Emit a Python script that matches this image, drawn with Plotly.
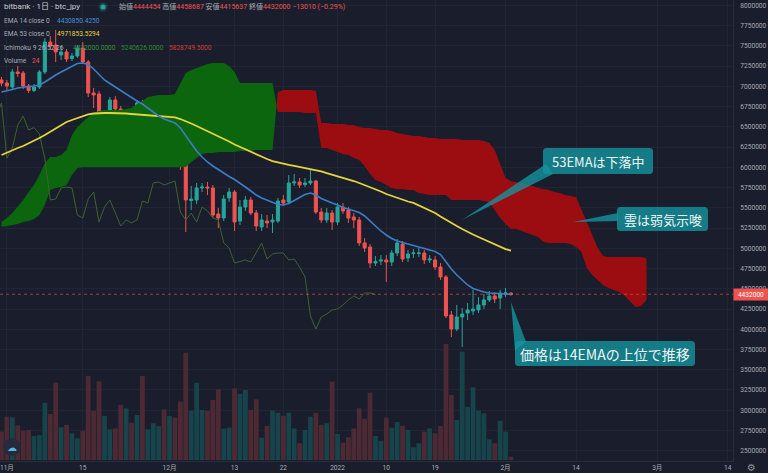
import numpy as np
import pandas as pd
import plotly.graph_objects as go

# ---------------- data (prices in thousand JPY) ----------------
start_date = "2021-10-31"
open_k = [7079, 7042, 6992, 7178, 7165, 7005, 6949, 6992, 7178, 7548,
          7511, 7388, 7425, 7344, 7375, 7474, 7301, 6918, 6906, 6511,
          6647, 6832, 6721, 6486, 6647, 6622, 6795, 6115, 6239, 6523,
          6634, 6474, 6486, 6399, 6091, 5590, 5597, 5745, 5757, 5745,
          5424, 5374, 5621, 5695, 5337, 5510, 5597, 5436, 5263, 5337,
          5325, 5337, 5597, 5572, 5807, 5819, 5788, 5807, 5831, 5448,
          5350, 5436, 5325, 5510, 5473, 5387, 5350, 5066, 5016, 4818,
          4843, 4856, 4831, 4942, 5053, 4880, 4936, 4936, 4942, 4856,
          4856, 4769, 4646, 4176, 4003, 4151, 4201, 4226, 4238, 4300,
          4362, 4411, 4386, 4436, 4444.454]
high_k = [7116, 7079, 7215, 7252, 7190, 7029, 7029, 7202, 7598, 7622,
          7696, 7499, 7462, 7412, 7511, 7548, 7326, 6980, 6943, 6684,
          6869, 6881, 6758, 6684, 6708, 6832, 6832, 6276, 6560, 6684,
          6671, 6560, 6523, 6437, 6115, 5770, 5807, 5807, 5819, 5782,
          5498, 5658, 5745, 5720, 5597, 5646, 5634, 5473, 5424, 5411,
          5424, 5621, 5658, 5905, 5918, 5868, 5868, 5967, 5844, 5498,
          5498, 5473, 5560, 5560, 5510, 5436, 5387, 5127, 5053, 4905,
          4917, 4917, 4979, 5115, 5090, 4979, 4991, 5004, 4979, 4917,
          4905, 4818, 4670, 4226, 4300, 4263, 4324, 4485, 4398, 4436,
          4473, 4460, 4485, 4510, 4458.687]
low_k = [7005, 6955, 6968, 7116, 6968, 6918, 6931, 6968, 7153, 7449,
         7301, 7326, 7301, 7313, 7351, 7276, 6869, 6733, 6486, 6449,
         6609, 6684, 6449, 6461, 6572, 6585, 6078, 6029, 6214, 6486,
         6424, 6412, 6375, 5967, 5201, 5473, 5547, 5695, 5658, 5374,
         5251, 5337, 5572, 5214, 5288, 5461, 5411, 5214, 5214, 5251,
         5189, 5313, 5523, 5547, 5770, 5745, 5757, 5782, 5424, 5313,
         5313, 5226, 5288, 5424, 5313, 5251, 5028, 4954, 4757, 4781,
         4794, 4584, 4781, 4905, 4831, 4831, 4880, 4893, 4806, 4818,
         4732, 4609, 4139, 3904, 3978, 3781, 4114, 4176, 4201, 4250,
         4337, 4324, 4250, 4398, 4415.637]
close_k = [7042, 7005, 7178, 7159, 7005, 6949, 6992, 7178, 7548, 7499,
           7425, 7425, 7338, 7375, 7474, 7301, 6918, 6894, 6511, 6647,
           6832, 6721, 6486, 6647, 6622, 6795, 6115, 6239, 6523, 6634,
           6461, 6492, 6412, 6103, 5597, 5609, 5745, 5757, 5745, 5411,
           5374, 5609, 5695, 5325, 5510, 5597, 5436, 5275, 5350, 5313,
           5350, 5584, 5560, 5807, 5819, 5782, 5807, 5831, 5448, 5350,
           5436, 5325, 5510, 5461, 5374, 5350, 5066, 5004, 4818, 4837,
           4856, 4831, 4942, 5066, 4868, 4930, 4942, 4942, 4856, 4868,
           4769, 4646, 4164, 4003, 4151, 4188, 4238, 4250, 4300, 4362,
           4411, 4374, 4448, 4448, 4432.0]
volume = [207, 316, 312, 253, 214, 219, 175, 180, 418, 336,
          564, 239, 256, 195, 158, 212, 613, 360, 574, 321,
          224, 231, 402, 377, 272, 329, 613, 224, 268, 248,
          370, 321, 309, 426, 783, 360, 564, 365, 358, 438,
          516, 229, 236, 523, 482, 511, 365, 443, 163, 248,
          360, 345, 321, 345, 231, 122, 219, 316, 345, 256,
          268, 572, 190, 126, 166, 231, 377, 301, 491, 175,
          139, 309, 236, 277, 250, 219, 93, 122, 207, 231,
          195, 248, 847, 475, 292, 791, 389, 531, 360, 341,
          151, 122, 287, 207, 24]
ema14_k = [6931, 6943, 6962, 6980, 6992, 6999, 7005, 7017, 7054, 7103,
           7141, 7178, 7215, 7252, 7283, 7289, 7270, 7215, 7141, 7079,
           7036, 6992, 6949, 6906, 6857, 6819, 6782, 6733, 6684, 6634,
           6597, 6572, 6548, 6486, 6387, 6288, 6202, 6128, 6066, 6017,
           5973, 5924, 5887, 5850, 5807, 5757, 5708, 5658, 5621, 5597,
           5566, 5541, 5535, 5553, 5590, 5628, 5665, 5683, 5658, 5615,
           5584, 5560, 5535, 5504, 5485, 5461, 5442, 5399, 5337, 5275,
           5214, 5164, 5121, 5090, 5072, 5059, 5041, 5022, 5004, 4985,
           4960, 4923, 4831, 4744, 4670, 4602, 4547, 4503, 4479, 4460,
           4448, 4442, 4436, 4434, 4430.850]
ema53_k = [6152, 6183, 6208, 6239, 6264, 6294, 6325, 6362, 6399, 6437,
           6480, 6517, 6560, 6585, 6609, 6634, 6653, 6665, 6671, 6671,
           6671, 6671, 6671, 6665, 6659, 6653, 6647, 6640, 6634, 6628,
           6622, 6622, 6616, 6597, 6572, 6542, 6511, 6480, 6449, 6418,
           6387, 6350, 6319, 6282, 6251, 6220, 6190, 6159, 6128, 6103,
           6078, 6060, 6041, 6029, 6017, 6004, 5992, 5980, 5961, 5949,
           5930, 5912, 5893, 5875, 5856, 5831, 5807, 5782, 5757, 5733,
           5702, 5671, 5646, 5621, 5603, 5578, 5560, 5529, 5498, 5467,
           5436, 5393, 5350, 5313, 5275, 5238, 5201, 5171, 5140, 5109,
           5078, 5047, 5016, 4991, 4971.854]
# Ichimoku leading spans, displayed from the first date (already displaced forward)
span_a_k = [5325, 5374, 5436, 5510, 5597, 5695, 5782, 5905, 6054, 6128,
            6128, 6152, 6214, 6399, 6498, 6560, 6622, 6671, 6696, 6708,
            6708, 6708, 6708, 6721, 6733, 6782, 6819, 6869, 6881, 6894,
            6894, 6894, 6906, 7042, 7165, 7202, 7227, 7252, 7276, 7289,
            7289, 7289, 7252, 7178, 7042, 7042, 7042, 7042, 7042, 7042,
            7042, 6684, 6684, 6684, 6684, 6684, 6671, 6671, 6671, 6239,
            6239, 6214, 6190, 6165, 6152, 6115, 6091, 6017, 5918, 5844,
            5819, 5782, 5745, 5733, 5733, 5720, 5720, 5683, 5671, 5658,
            5658, 5658, 5658, 5597, 5597, 5597, 5597, 5597, 5597, 5584,
            5572, 5473, 5374, 5300, 5241, 5238, 5214, 5189, 5164, 5140,
            5078, 5066, 5066, 5066, 5066, 5053, 5016, 4954, 4757, 4670,
            4609, 4547, 4510, 4485, 4460, 4411, 4337, 4275, 4287, 4362]
span_b_k = [5263, 5275, 5288, 5300, 5325, 5337, 5362, 5411, 5535, 5720,
            5745, 5757, 5782, 5905, 5992, 6004, 6004, 6004, 6004, 6004,
            6004, 6004, 6004, 6004, 6004, 6004, 6004, 6004, 6004, 6004,
            6004, 6004, 6004, 6004, 6004, 6066, 6115, 6165, 6177, 6177,
            6190, 6190, 6190, 6190, 6202, 6202, 6202, 6214, 6214, 6214,
            6214, 6931, 6955, 6955, 6955, 6955, 6955, 6955, 6943, 6548,
            6548, 6535, 6535, 6535, 6523, 6523, 6498, 6486, 6486, 6474,
            6461, 6461, 6449, 6424, 6412, 6399, 6387, 6387, 6375, 6362,
            6362, 6350, 6350, 6350, 6350, 6338, 6338, 6338, 6338, 6325,
            6301, 6214, 6029, 5868, 5829, 5820, 5807, 5782, 5770, 5745,
            5733, 5720, 5695, 5683, 5658, 5646, 5634, 5473, 5325, 5164,
            5004, 4905, 4893, 4893, 4893, 4893, 4893, 4893, 4893, 4880]
lag_shift_days = 25
last_price = 4432000
tick_dates = ["2021-11-01", "2021-11-15", "2021-12-01", "2021-12-13", "2021-12-22",
              "2022-01-01", "2022-01-10", "2022-01-19", "2022-02-01", "2022-02-14",
              "2022-03-01", "2022-03-14"]
tick_text = ["11月", "15", "12月", "13", "22", "2022", "10", "19", "2月", "14", "3月", "14"]

# ---------------- styling ----------------
BG = "#1a1e2c"
GRID = "#212534"
AXLINE = "#2a2e3b"
TICK = "#a9acb6"
UP = "#26a69a"
DOWN = "#ef5350"
VOL_UP = "#17444a"
VOL_DOWN = "#4d2a33"
CLOUD_G = "#0b660d"
CLOUD_R = "#9b0d11"
CALLOUT = "rgba(20,150,160,0.78)"
FONT = "Roboto, Noto Sans CJK JP, sans-serif"
JFONT = "Noto Sans CJK JP, sans-serif"

K = 1000.0
dates = pd.date_range(start_date, periods=len(close_k), freq="D")
o = np.array(open_k) * K
h = np.array(high_k) * K
l = np.array(low_k) * K
c = np.array(close_k) * K

fig = go.Figure()

# volume (base y axis, drawn underneath)
vol_colors = [VOL_UP if cc >= oo else VOL_DOWN for oo, cc in zip(o, c)]
fig.add_trace(go.Bar(x=dates, y=volume, marker=dict(color=vol_colors, line=dict(width=0)),
                     yaxis="y", hoverinfo="skip"))

# cloud
cdates = pd.date_range(start_date, periods=len(span_a_k), freq="D")
tms = cdates.values.astype("datetime64[ms]").astype(np.int64).astype(float)
A = np.array(span_a_k) * K
B = np.array(span_b_k) * K
D = A - B
runs = []
cur = dict(sign=D[0] >= 0, x=[tms[0]], a=[A[0]], b=[B[0]])
for i in range(1, len(A)):
    s = D[i] >= 0
    if s != cur["sign"]:
        f = D[i - 1] / (D[i - 1] - D[i])
        xc = tms[i - 1] + f * (tms[i] - tms[i - 1])
        yc = A[i - 1] + f * (A[i] - A[i - 1])
        cur["x"].append(xc); cur["a"].append(yc); cur["b"].append(yc)
        runs.append(cur)
        cur = dict(sign=s, x=[xc], a=[yc], b=[yc])
    cur["x"].append(tms[i]); cur["a"].append(A[i]); cur["b"].append(B[i])
runs.append(cur)
for r in runs:
    xs = list(r["x"]) + list(r["x"][::-1])
    ys = list(r["a"]) + list(r["b"][::-1])
    fig.add_trace(go.Scatter(x=pd.to_datetime(np.array(xs), unit="ms"), y=ys, mode="lines",
                             fill="toself", fillcolor=CLOUD_G if r["sign"] else CLOUD_R,
                             line=dict(width=0), yaxis="y2", hoverinfo="skip"))

# lagging span (close shifted back)
lag_x = dates - pd.Timedelta(days=lag_shift_days)
fig.add_trace(go.Scatter(x=lag_x, y=c, mode="lines", line=dict(color="#3d6230", width=1),
                         yaxis="y2", hoverinfo="skip"))

# candles
fig.add_trace(go.Candlestick(x=dates, open=o, high=h, low=l, close=c, yaxis="y2",
                             increasing=dict(line=dict(color=UP, width=1), fillcolor=UP),
                             decreasing=dict(line=dict(color=DOWN, width=1), fillcolor=DOWN),
                             whiskerwidth=0, hoverinfo="skip"))

# EMAs
fig.add_trace(go.Scatter(x=dates, y=np.array(ema53_k) * K, mode="lines",
                         line=dict(color="#e6d43c", width=1.8), yaxis="y2"))
fig.add_trace(go.Scatter(x=dates, y=np.array(ema14_k) * K, mode="lines",
                         line=dict(color="#3b7dc6", width=1.6), yaxis="y2"))

# ---------------- layout helpers ----------------
W, H = 733, 461
def px(x): return x / W
def py(y): return 1 - y / H
def P(x, y): return f"{px(x):.5f},{py(y):.5f}"
def poly(pts): return "M " + " L ".join(P(x, y) for x, y in pts) + " Z"
def rbox(x0, y0, x1, y1, r):
    return (f"M {P(x0 + r, y0)} L {P(x1 - r, y0)} Q {P(x1, y0)} {P(x1, y0 + r)} "
            f"L {P(x1, y1 - r)} Q {P(x1, y1)} {P(x1 - r, y1)} L {P(x0 + r, y1)} "
            f"Q {P(x0, y1)} {P(x0, y1 - r)} L {P(x0, y0 + r)} Q {P(x0, y0)} {P(x0 + r, y0)} Z")

shapes = []
shapes.append(dict(type="line", xref="paper", x0=0, x1=1, yref="y2", y0=last_price, y1=last_price,
                   line=dict(color="rgba(239,83,80,0.6)", width=1, dash="dot"), layer="above"))
for box, wedge in [((543, 148, 653, 174), [(462, 220), (546, 164), (553, 174)]),
                   ((617, 207, 708, 231), [(573, 222), (618, 213), (618, 221)]),
                   ((515, 341, 695, 366), [(511, 302), (515, 350), (526, 342)])]:
    shapes.append(dict(type="path", xref="paper", yref="paper", path=poly(wedge),
                       fillcolor=CALLOUT, line=dict(width=0), layer="above"))
    shapes.append(dict(type="path", xref="paper", yref="paper", path=rbox(*box, 3.5),
                       fillcolor=CALLOUT, line=dict(width=0), layer="above"))
shapes.append(dict(type="circle", xref="paper", yref="paper", x0=px(98.5), x1=px(107.5),
                   y0=py(11.5), y1=py(2.5), fillcolor="rgba(38,166,154,0.25)", line=dict(width=0)))
shapes.append(dict(type="circle", xref="paper", yref="paper", x0=px(100.5), x1=px(105.5),
                   y0=py(9.5), y1=py(4.5), fillcolor="#26a69a", line=dict(width=0)))
shapes.append(dict(type="circle", xref="paper", yref="paper", x0=px(3), x1=px(21),
                   y0=py(456), y1=py(438), fillcolor="#262b3a", line=dict(width=0), layer="above"))

ann = []
def text(x, y, s, size=6.6, color=TICK, family=FONT, xanchor="left"):
    ann.append(dict(xref="paper", yref="paper", x=px(x), y=py(y), text=s, showarrow=False,
                    xanchor=xanchor, yanchor="middle", font=dict(size=size, color=color, family=family)))

text(2, 7, "bitbank · 1日 · btc_jpy", size=8, color="#c9ccd4")
red = "#ef5350"
def span(s, col): return f"<span style='color:{col}'>{s}</span>"
text(117, 7, "始値" + span("4444454", red) + " 高値" + span("4458687", red) + " 安値" +
     span("4415637", red) + " 終値" + span("4432000", red) + " " + span("−13010 (−0.29%)", red), size=7)
text(2, 21, "EMA 14 close 0")
text(54.5, 21, "4430850.4250", color="#4a8fd8")
text(2, 34, "EMA 53 close 0")
text(54.5, 34, "4971853.5294", color="#e6d43c")
text(2, 48, "Ichimoku 9 26 52 26")
text(71, 48, "4432000.0000", color="#3f8f3a")
text(119, 48, "5240626.0000", color="#2f8a2f")
text(167, 48, "5828749.5000", color="#d23a35")
text(2, 61, "Volume")
text(30, 61, "24", color=red)
text(598, 161, "53EMAは下落中", size=13, color="#eef5f5", family=JFONT, xanchor="center")
text(662.5, 219, "雲は弱気示唆", size=13, color="#eef5f5", family=JFONT, xanchor="center")
text(605, 353.5, "価格は14EMAの上位で推移", size=14, color="#eef5f5", family=JFONT, xanchor="center")
text(12, 447, "☁", size=10, color="#56b6e6", family="DejaVu Sans", xanchor="center")
ann.append(dict(xref="paper", yref="paper", x=px(751), y=py(467), text="⚙", showarrow=False,
                xanchor="center", yanchor="middle", font=dict(size=10, color="#8a8e99", family="DejaVu Sans")))
ann.append(dict(xref="paper", yref="y2", x=1, y=last_price, text="4432000", showarrow=False,
                xanchor="left", yanchor="middle", bgcolor=red, borderpad=1.5, width=31,
                font=dict(size=6.6, color="#ffffff", family=FONT)))

fig.update_layout(
    width=768, height=473, margin=dict(l=0, r=35, t=0, b=12),
    paper_bgcolor=BG, plot_bgcolor=BG, showlegend=False, bargap=0.12, boxgap=0.2,
    shapes=shapes, annotations=ann,
    xaxis=dict(type="date", range=["2021-10-30 17:21", "2022-03-14 23:07"],
               tickvals=tick_dates, ticktext=tick_text, showgrid=True, gridcolor=GRID,
               showline=True, linecolor=AXLINE, ticks="", zeroline=False,
               ticklabeloverflow="allow",
               tickfont=dict(size=6.6, color=TICK, family=FONT), rangeslider=dict(visible=False)),
    yaxis=dict(range=[-7.3, 3359], visible=False, showgrid=False, zeroline=False),
    yaxis2=dict(overlaying="y", side="right", range=[2372728, 8067000], tick0=2500000,
                dtick=250000, tickformat="d", showgrid=True, gridcolor=GRID, zeroline=False,
                showline=True, linecolor=AXLINE, ticks="", ticklabelstandoff=5,
                ticklabeloverflow="allow",
                tickfont=dict(size=6.6, color=TICK, family=FONT)),
)

fig.write_html("out.html", config={"displayModeBar": False},
               post_script="document.body.style.margin='0';document.body.style.background='%s';" % BG)
